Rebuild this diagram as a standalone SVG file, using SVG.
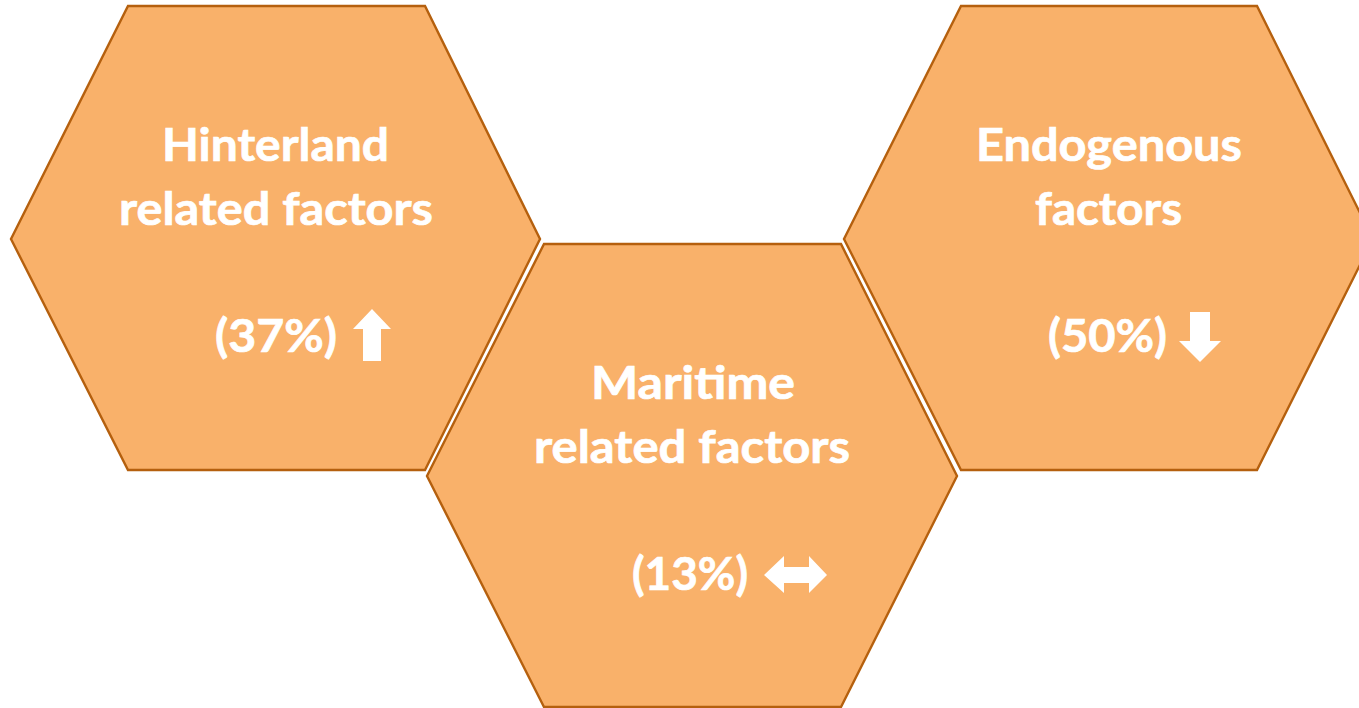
<svg xmlns="http://www.w3.org/2000/svg" width="1359" height="708" viewBox="0 0 1359 708">
<style>
.hex{fill:#F9B16A;stroke:#B5600E;stroke-width:2.4;stroke-linejoin:miter}
.t{font-family:"Lato","Open Sans","Liberation Sans",sans-serif;font-weight:bold;font-size:46px;fill:#FFFFFF;stroke:#FFFFFF;stroke-width:0.7;text-anchor:middle}
.arr{fill:#FFFFFF}
</style>
<rect width="1359" height="708" fill="#FFFFFF"/>
<g id="hinterland">
<polygon class="hex" points="128,6 425,6 540,239 425,470 128,470 11,239"/>
<text class="t" x="275.5" y="161" textLength="227" lengthAdjust="spacingAndGlyphs">Hinterland</text>
<text class="t" x="276" y="225" textLength="314" lengthAdjust="spacingAndGlyphs">related factors</text>
<text class="t" x="276" y="352" textLength="122" lengthAdjust="spacingAndGlyphs">(37%)</text>
<polygon class="arr" points="372,309 391,329 381,329 381,361 363,361 363,329 353,329"/>
</g>
<g id="endogenous">
<polygon class="hex" points="961,6 1257,6 1373,239 1257,470 961,470 844,239"/>
<text class="t" x="1109" y="161" textLength="266" lengthAdjust="spacingAndGlyphs">Endogenous</text>
<text class="t" x="1108.5" y="225" textLength="147" lengthAdjust="spacingAndGlyphs">factors</text>
<text class="t" x="1107.5" y="352" textLength="119" lengthAdjust="spacingAndGlyphs">(50%)</text>
<polygon class="arr" points="1190,312 1210,312 1210,341 1221,341 1200,362 1179,341 1190,341"/>
</g>
<g id="maritime">
<polygon class="hex" points="544,244 841,244 957,476 841,707 544,707 427,476"/>
<text class="t" x="693" y="399" textLength="204" lengthAdjust="spacingAndGlyphs">Maritime</text>
<text class="t" x="692" y="463" textLength="316" lengthAdjust="spacingAndGlyphs">related factors</text>
<text class="t" x="690" y="590" textLength="116" lengthAdjust="spacingAndGlyphs">(13%)</text>
<polygon class="arr" points="764,575 784,556 784,567 809,567 809,556 827,575 809,593 809,583 784,583 784,593"/>
</g>
<g id="connectors"></g>
</svg>
